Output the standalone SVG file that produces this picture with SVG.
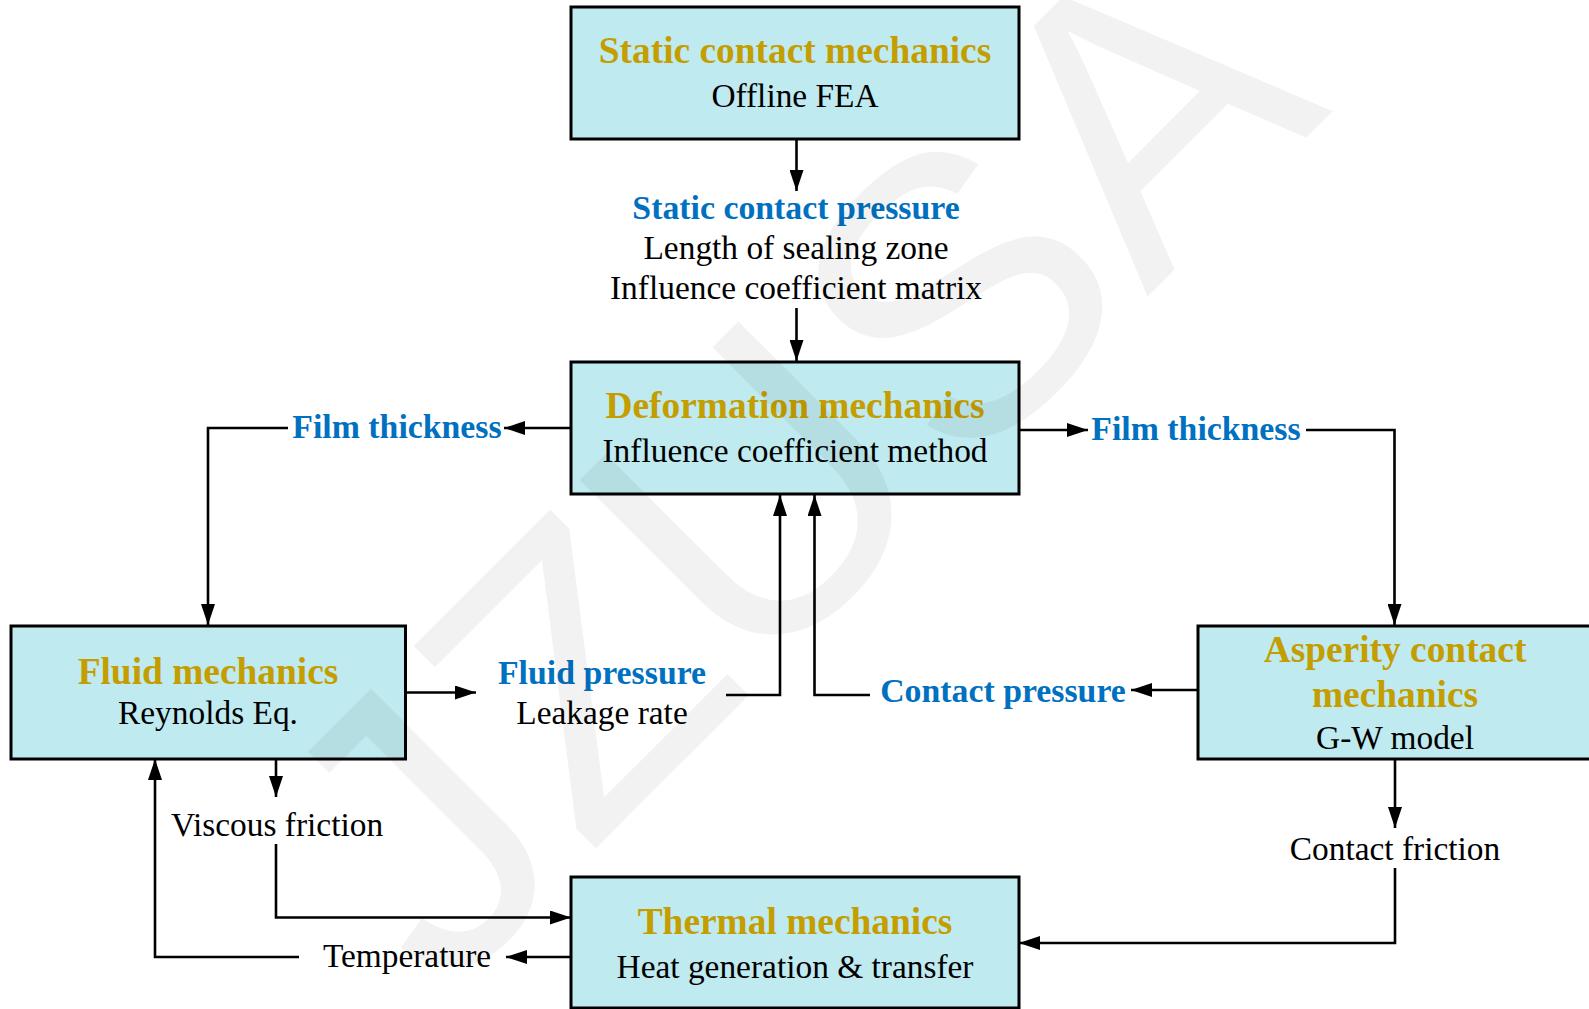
<svg xmlns="http://www.w3.org/2000/svg" width="1589" height="1009" viewBox="0 0 1589 1009">
<style>
.box{fill:#bfeaf0;stroke:#000;stroke-width:3}
.t{font-family:"Liberation Serif","Times New Roman",serif;font-weight:bold;font-size:37.4px;fill:#c49e00;text-anchor:middle}
.s{font-family:"Liberation Serif","Times New Roman",serif;font-size:33.4px;fill:#000;text-anchor:middle}
.b{font-family:"Liberation Serif","Times New Roman",serif;font-weight:bold;font-size:33.8px;fill:#0070c0;text-anchor:middle}
.c{fill:none;stroke:#000;stroke-width:2.6}
.wm{font-family:"Liberation Sans",Arial,sans-serif;font-size:395px;fill:#000;fill-opacity:0.05}
</style>
<defs>
<marker id="ah" markerUnits="userSpaceOnUse" markerWidth="22" markerHeight="14" refX="21" refY="7" orient="auto">
<path d="M0,0 L21,7 L0,14 z" fill="#000"/>
</marker>
</defs>
<rect width="1589" height="1009" fill="#fff"/>

<g id="static-contact">
<rect class="box" x="571" y="7" width="448" height="132"/>
<text class="t" x="795" y="62.5">Static contact mechanics</text>
<text class="s" x="795" y="107">Offline FEA</text>
</g>

<g id="static-outputs">
<text class="b" x="796" y="218.5">Static contact pressure</text>
<text class="s" x="796" y="259">Length of sealing zone</text>
<text class="s" x="796" y="298.5">Influence coefficient matrix</text>
</g>

<g id="deformation">
<rect class="box" x="571" y="362" width="448" height="132"/>
<text class="t" x="795" y="417.5">Deformation mechanics</text>
<text class="s" x="795" y="462">Influence coefficient method</text>
</g>

<g id="film-left">
<text class="b" x="397" y="437.5">Film thickness</text>
</g>

<g id="film-right">
<text class="b" x="1196" y="439.5">Film thickness</text>
</g>

<g id="fluid">
<rect class="box" x="11" y="626" width="394.5" height="133"/>
<text class="t" x="208" y="684">Fluid mechanics</text>
<text class="s" x="208" y="723.5">Reynolds Eq.</text>
</g>

<g id="fluid-outputs">
<text class="b" x="602" y="683.5">Fluid pressure</text>
<text class="s" x="602" y="723.5">Leakage rate</text>
</g>

<g id="contact-pressure">
<text class="b" x="1003" y="701.5">Contact pressure</text>
</g>

<g id="asperity">
<rect class="box" x="1198" y="626" width="395" height="133"/>
<text class="t" x="1395" y="662">Asperity contact</text>
<text class="t" x="1395" y="707">mechanics</text>
<text class="s" x="1395" y="748.5">G-W model</text>
</g>

<g id="viscous-friction">
<text class="s" x="277" y="835.5">Viscous friction</text>
</g>

<g id="contact-friction">
<text class="s" x="1395" y="859.5">Contact friction</text>
</g>

<g id="temperature">
<text class="s" x="407" y="966.5">Temperature</text>
</g>

<g id="thermal">
<rect class="box" x="571" y="877" width="448" height="131"/>
<text class="t" x="795" y="933.5">Thermal mechanics</text>
<text class="s" x="795" y="977.5">Heat generation &amp; transfer</text>
</g>

<g id="connectors">
<path class="c" d="M796.5,139 V191" marker-end="url(#ah)"/>
<path class="c" d="M796.5,308 V361" marker-end="url(#ah)"/>
<path class="c" d="M571,428 H504" marker-end="url(#ah)"/>
<path class="c" d="M288,428 H208 V625" marker-end="url(#ah)"/>
<path class="c" d="M1019,430 H1088" marker-end="url(#ah)"/>
<path class="c" d="M1306,430 H1394.5 V625" marker-end="url(#ah)"/>
<path class="c" d="M405,692.5 H476" marker-end="url(#ah)"/>
<path class="c" d="M726,695 H780 V495" marker-end="url(#ah)"/>
<path class="c" d="M870,695 H814.5 V495" marker-end="url(#ah)"/>
<path class="c" d="M1198,690 H1131" marker-end="url(#ah)"/>
<path class="c" d="M1395,759 V828" marker-end="url(#ah)"/>
<path class="c" d="M1395,868 V943 H1019" marker-end="url(#ah)"/>
<path class="c" d="M276,759 V797" marker-end="url(#ah)"/>
<path class="c" d="M276,844 V917.5 H571" marker-end="url(#ah)"/>
<path class="c" d="M571,957 H506" marker-end="url(#ah)"/>
<path class="c" d="M299,957 H155 V759" marker-end="url(#ah)"/>
</g>

<g id="watermark" transform="translate(722 722) rotate(-45)">
<text class="wm" x="-393 -191 40 337 601" y="0">JZUSA</text>
</g>
</svg>
